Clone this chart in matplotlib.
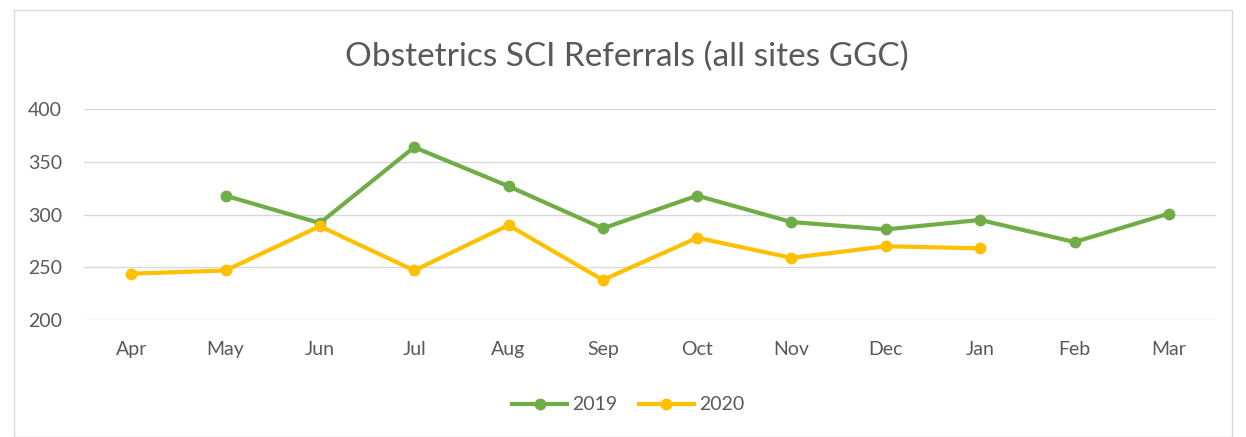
import matplotlib
matplotlib.use("Agg")
import matplotlib.pyplot as plt
from matplotlib.patches import Rectangle
import numpy as np

months = ["Apr", "May", "Jun", "Jul", "Aug", "Sep", "Oct", "Nov", "Dec", "Jan", "Feb", "Mar"]
s2019 = [np.nan, 318, 292, 364, 327, 287, 318, 293, 286, 295, 274, 301]
s2020 = [244, 247, 289, 247, 290, 238, 278, 259, 270, 268, np.nan, np.nan]
yticks = [200, 250, 300, 350, 400]

plt.rcParams['font.family'] = ['Lato', 'DejaVu Sans']

fig = plt.figure(figsize=(12.46, 4.37), dpi=100)
fig.patches.append(Rectangle((14/1246, 0.0), (1232-14)/1246, 1 - 10/437, transform=fig.transFigure,
                             fill=False, edgecolor='#D9D9D9', linewidth=1))
ax = fig.add_axes([84/1246, 1 - 320/437, (1216-84)/1246, (320-109.3)/437])

x = np.arange(len(months))
ax.plot(x, s2019, color='#70AD47', linewidth=3.0, marker='o', markersize=7.5, label='2019', zorder=3)
ax.plot(x, s2020, color='#FFC000', linewidth=3.0, marker='o', markersize=7.5, label='2020', zorder=4)

ax.set_xlim(-0.5, len(months) - 0.5)
ax.set_ylim(200, 400)
ax.set_yticks(yticks)
ax.set_xticks(x)
ax.set_xticklabels(months)
ax.grid(axis='y', color='#D9D9D9', linewidth=1)
ax.set_axisbelow(True)
for s in ax.spines.values():
    s.set_visible(False)
ax.tick_params(length=0, colors='#595959', labelsize=14)
ax.tick_params(axis='x', pad=15)
ax.tick_params(axis='y', pad=16)

fig.text(0.503, 1 - 57/437, "Obstetrics SCI Referrals (all sites GGC)", ha='center', va='center',
         fontsize=24, color='#595959')

fig.legend(loc='center', bbox_to_anchor=(0.5044, 1 - 405/437), ncol=2, frameon=False,
           fontsize=14, labelcolor='#595959', handlelength=2.8, columnspacing=1.1, handletextpad=0.3)

fig.savefig("out.png", dpi=100)
